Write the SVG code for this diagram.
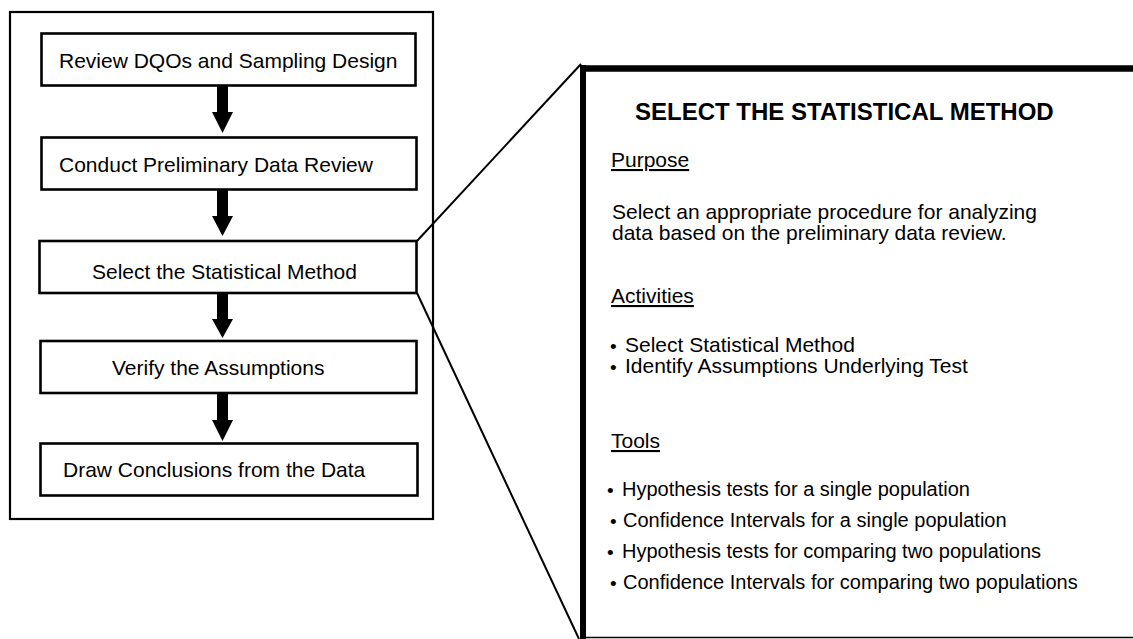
<svg xmlns="http://www.w3.org/2000/svg" width="1133" height="639" viewBox="0 0 1133 639">
<style>
  text { font-family: "Liberation Sans", Arial, sans-serif; fill: #000; }
  .box { fill: #fff; stroke: #000; stroke-width: 2.6; }
  .frame { fill: none; stroke: #000; stroke-width: 2.2; }
  .lbl { font-size: 21px; }
  .head { font-size: 21px; text-decoration: underline; }
  .body { font-size: 21px; }
  .tool { font-size: 20px; }
  .bul { font-size: 19px; }
  .title { font-size: 24px; font-weight: bold; }
  .arrow { fill: #000; }
  .zoom { stroke: #000; stroke-width: 2; fill: none; }
</style>
<rect width="1133" height="639" fill="#fff"/>
<g id="frame">
  <rect class="frame" x="10" y="12" width="423" height="507"/>
</g>
<g id="connectors">
  <path class="arrow" d="M217 85 H228 V112 H233 L222.5 133 L212 112 H217 Z"/>
  <path class="arrow" d="M217 189 H228 V216 H233 L222.5 236 L212 216 H217 Z"/>
  <path class="arrow" d="M217 293 H228 V319 H233 L222.5 338 L212 319 H217 Z"/>
  <path class="arrow" d="M217 393 H228 V420 H233 L222.5 441 L212 420 H217 Z"/>
  <line class="zoom" x1="417" y1="241" x2="581" y2="64"/>
  <line class="zoom" x1="417" y1="293" x2="579" y2="639"/>
</g>
<g id="n1">
  <rect class="box" x="41.5" y="33.5" width="374" height="52"/>
  <text class="lbl" x="59" y="68">Review DQOs and Sampling Design</text>
</g>
<g id="n2">
  <rect class="box" x="41.5" y="137.5" width="375" height="52"/>
  <text class="lbl" x="59" y="172">Conduct Preliminary Data Review</text>
</g>
<g id="n3">
  <rect class="box" x="39.5" y="241" width="377" height="52"/>
  <text class="lbl" x="92" y="279">Select the Statistical Method</text>
</g>
<g id="n4">
  <rect class="box" x="40.5" y="341" width="376" height="52"/>
  <text class="lbl" x="112" y="375">Verify the Assumptions</text>
</g>
<g id="n5">
  <rect class="box" x="40.5" y="443.5" width="377" height="52"/>
  <text class="lbl" x="63" y="477">Draw Conclusions from the Data</text>
</g>
<g id="detail">
  <line x1="583" y1="65" x2="583" y2="639" stroke="#000" stroke-width="6"/>
  <line x1="580" y1="68.5" x2="1133" y2="68.5" stroke="#000" stroke-width="6.5"/>
  <line x1="580" y1="637.5" x2="1133" y2="637.5" stroke="#000" stroke-width="1.5"/>
  <text class="title" x="635" y="120">SELECT THE STATISTICAL METHOD</text>
  <text class="head" x="611" y="167">Purpose</text>
  <text class="body" x="612" y="219">Select an appropriate procedure for analyzing</text>
  <text class="body" x="612" y="240">data based on the preliminary data review.</text>
  <text class="head" x="611" y="303">Activities</text>
  <text class="body" y="352"><tspan class="bul" x="610" dy="1">•</tspan><tspan x="625" dy="-1">Select Statistical Method</tspan></text>
  <text class="body" y="373"><tspan class="bul" x="610" dy="1">•</tspan><tspan x="625" dy="-1">Identify Assumptions Underlying Test</tspan></text>
  <text class="head" x="611" y="448">Tools</text>
  <text class="tool" y="496"><tspan class="bul" x="607" dy="1">•</tspan><tspan x="622" dy="-1">Hypothesis tests for a single population</tspan></text>
  <text class="tool" y="527"><tspan class="bul" x="610" dy="1">•</tspan><tspan x="623" dy="-1">Confidence Intervals for a single population</tspan></text>
  <text class="tool" y="558"><tspan class="bul" x="607" dy="1">•</tspan><tspan x="622" dy="-1">Hypothesis tests for comparing two populations</tspan></text>
  <text class="tool" y="589"><tspan class="bul" x="610" dy="1">•</tspan><tspan x="623" dy="-1">Confidence Intervals for comparing two populations</tspan></text>
</g>
</svg>
